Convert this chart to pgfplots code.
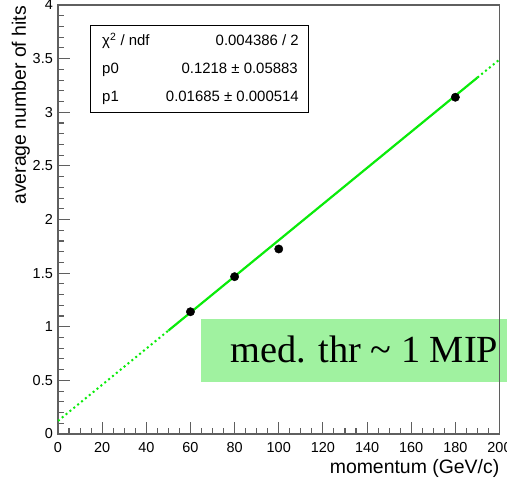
\documentclass[border=0pt]{standalone}
\usepackage{pgfplots}
\pgfplotsset{compat=1.18}
\usepackage{fontspec}
\setmainfont{Liberation Sans}
\newfontfamily\seriffont{Liberation Serif}
\definecolor{fitgreen}{RGB}{10,235,10}
\definecolor{boxgreen}{RGB}{160,242,160}
\definecolor{framegray}{RGB}{95,95,95}
\begin{document}
\begin{tikzpicture}
\useasboundingbox (0,0) rectangle (507bp,480bp);
\begin{scope}[yshift=480bp,x=1bp,y=-1bp]
  \fill[boxgreen] (200.5,319) rectangle (512,382);
\end{scope}
\begin{axis}[
  at={(58bp,46bp)}, anchor=south west,
  scale only axis, width=441.5bp, height=429bp,
  xmin=0, xmax=200, ymin=0, ymax=4,
  xtick={0,20,40,60,80,100,120,140,160,180,200},
  ytick={0,0.5,1,1.5,2,2.5,3,3.5,4},
  yticklabels={0,0.5,1,1.5,2,2.5,3,3.5,4},
  minor x tick num=3, minor y tick num=4,
  tick align=inside, xtick pos=bottom, ytick pos=left,
  major tick length=12bp, minor tick length=6bp,
  axis line style={framegray, line width=1.1bp},
  every tick/.style={framegray, line width=1.1bp},
  /pgf/number format/assume math mode=true,
  tick label style={font=\fontsize{14.5}{16}\selectfont, inner sep=0pt},
  yticklabel style={xshift=-5bp},
  xticklabel style={yshift=-8bp},
  xlabel={momentum (GeV/c)},
  ylabel={average number of hits},
  label style={font=\fontsize{19.5}{22}\selectfont, inner sep=0pt},
  xlabel style={at={(rel axis cs:1,-0.0932)}, anchor=base east},
  ylabel style={at={(rel axis cs:-0.0634,0.998)}, anchor=south east, rotate=0},
]
% fit line: p0 = 0.1218, p1 = 0.01685
\addplot[fitgreen, line width=2bp, dash pattern=on 2bp off 3bp] coordinates {(0,0.1218) (50,0.9643)};
\addplot[fitgreen, line width=2.2bp] coordinates {(50,0.9643) (190,3.3233)};
\addplot[fitgreen, line width=2bp, dash pattern=on 2bp off 3bp] coordinates {(190,3.3233) (200,3.4918)};
% data points
\addplot[only marks, mark=*, mark size=4.2bp, black] coordinates {
  (60,1.14) (80,1.467) (100,1.725) (180,3.14)
};
\end{axis}
\begin{scope}[yshift=480bp,x=1bp,y=-1bp]
  \draw[black, line width=0.9bp, fill=white] (90,25) rectangle (308,112);
  \begin{scope}[every node/.style={inner sep=0pt, font=\fontsize{15}{17}\selectfont}]
    \node[anchor=base west] at (102,45.5) {χ\textsuperscript{2} / ndf};
    \node[anchor=base east] at (299,45.5) {0.004386 / 2};
    \node[anchor=base west] at (102,74) {p0};
    \node[anchor=base east] at (298,74) {0.1218 ± 0.05883};
    \node[anchor=base west] at (102,102) {p1};
    \node[anchor=base east] at (299,102) {0.01685 ± 0.000514};
  \end{scope}
  \node[anchor=base west, inner sep=0pt, font=\seriffont\fontsize{38.5}{40}\selectfont] at (230,363) {med. thr \textasciitilde{} 1 MIP};
\end{scope}
\end{tikzpicture}
\end{document}
